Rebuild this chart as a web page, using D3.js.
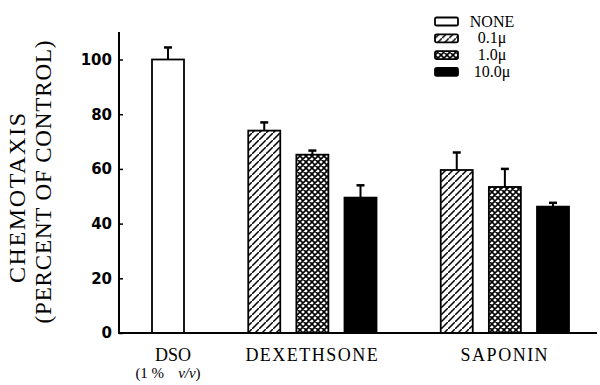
<!doctype html>
<html lang="en">
  <head>
    <meta charset="utf-8">
    <title>Chemotaxis</title>
    <style>
      body{ margin: 0; background: #fff; }
      svg{ display: block; }
      .serif{ font-family: "Liberation Serif", "DejaVu Serif", serif; }
      .tick text{ font-family: "DejaVu Sans", sans-serif; font-weight: bold; font-size: 15px; }
    </style>
  </head>
  <body>
    <svg id="chart" width="600" height="385"></svg>
    <script src="https://d3js.org/d3.v7.min.js"></script>
    <script>

      //chart values
      var groups = ["DSO", "DEXETHSONE", "SAPONIN"];
      var doses = ["NONE", "0.1\u03bc", "1.0\u03bc", "10.0\u03bc"];
      //each group's bars: dose index, mean, top of error bar
      var groupDoses = [[0], [1, 2, 3], [1, 2, 3]];
      var means = [[100], [74, 65.2, 49.5], [59.6, 53.4, 46.2]];
      var errTops = [[104.4], [77, 66.7, 54], [66, 60, 47.6]];
      var yTicks = [0, 20, 40, 60, 80, 100];

      var svg = d3.select("#chart");

      //patterns for the dose fills
      var defs = svg.append("defs");
      defs.append("pattern")
        .attr("id", "hatch")
        .attr("patternUnits", "userSpaceOnUse")
        .attr("width", 7).attr("height", 7)
        .append("path")
        .attr("d", "M-1,8 l2,-2 M0,7 l7,-7 M6,1 l2,-2")
        .attr("stroke", "#000").attr("stroke-width", 1.5);
      var cross = defs.append("pattern")
        .attr("id", "cross")
        .attr("patternUnits", "userSpaceOnUse")
        .attr("width", 6).attr("height", 6);
      cross.append("rect").attr("width", 6).attr("height", 6).attr("fill", "#fff");
      cross.append("path")
        .attr("d", "M-1,7 l8,-8 M-1,-1 l8,8 M-1,1 l2,-2 M5,7 l2,-2 M5,-1 l2,2 M-1,5 l2,2")
        .attr("stroke", "#000").attr("stroke-width", 1.6);

      var fills = ["#fff", "url(#hatch)", "url(#cross)", "#000"];

      //flatten bars into slots, one empty slot between groups
      var bars = [];
      var slot = 0;
      var groupSlots = [];
      groups.forEach(function(g, gi){
        var first = slot;
        groupDoses[gi].forEach(function(d, i){
          bars.push({group: g, dose: d, mean: means[gi][i], err: errTops[gi][i], slot: slot});
          slot++;
        });
        groupSlots.push((first + slot - 1) / 2);
        slot++;
      });

      var x = d3.scaleLinear().domain([0, 8]).range([168, 553]);
      var y = d3.scaleLinear().domain([0, 100]).range([333, 59.5]);
      var barW = 32;

      //bars
      svg.append("g").selectAll("rect")
        .data(bars)
        .enter()
        .append("rect")
        .attr("x", function(d){ return x(d.slot) - barW / 2; })
        .attr("y", function(d){ return y(d.mean); })
        .attr("width", barW)
        .attr("height", function(d){ return y(0) - y(d.mean); })
        .attr("fill", function(d){ return fills[d.dose]; })
        .attr("stroke", "#000")
        .attr("stroke-width", 1.8);

      //error bars
      var err = svg.append("g").attr("stroke", "#000").attr("stroke-width", 2);
      err.selectAll("line.v")
        .data(bars)
        .enter()
        .append("line")
        .attr("class", "v")
        .attr("x1", function(d){ return x(d.slot); })
        .attr("x2", function(d){ return x(d.slot); })
        .attr("y1", function(d){ return y(d.mean); })
        .attr("y2", function(d){ return y(d.err); });
      err.selectAll("line.c")
        .data(bars)
        .enter()
        .append("line")
        .attr("class", "c")
        .attr("x1", function(d){ return x(d.slot) - 4; })
        .attr("x2", function(d){ return x(d.slot) + 4; })
        .attr("y1", function(d){ return y(d.err); })
        .attr("y2", function(d){ return y(d.err); })
        .attr("stroke-width", 2.5);

      //y axis
      var yAxis = svg.append("g")
        .attr("transform", "translate(119,0)")
        .call(d3.axisLeft(y).tickValues(yTicks).tickSize(-4).tickPadding(7).tickSizeOuter(0));
      yAxis.select(".domain").remove();
      yAxis.selectAll(".tick line").attr("stroke-width", 1.5);
      svg.append("line")
        .attr("x1", 119).attr("x2", 119)
        .attr("y1", 32).attr("y2", y(0))
        .attr("stroke", "#000").attr("stroke-width", 2);

      //baseline
      svg.append("line")
        .attr("x1", 118).attr("x2", 597)
        .attr("y1", y(0)).attr("y2", y(0))
        .attr("stroke", "#000").attr("stroke-width", 2);

      //group labels
      svg.append("g").selectAll("text")
        .data(groups)
        .enter()
        .append("text")
        .attr("class", "serif")
        .attr("x", function(d, i){ return x(groupSlots[i]) + (i == 0 ? 5 : 0); })
        .attr("y", 361)
        .attr("text-anchor", "middle")
        .style("font-size", "18px")
        .style("letter-spacing", function(d, i){ return i == 0 ? "0px" : "1.5px"; })
        .text(function(d){ return d; });

      var sub = svg.append("text")
        .attr("class", "serif")
        .attr("x", 168)
        .attr("y", 378)
        .attr("text-anchor", "middle")
        .style("font-size", "15px");
      sub.append("tspan").text("(1 %");
      sub.append("tspan").attr("dx", 14).style("font-style", "italic").text("v/v");
      sub.append("tspan").text(")");

      //y title
      svg.append("text")
        .attr("class", "serif")
        .attr("transform", "translate(25,198) rotate(-90)")
        .attr("text-anchor", "middle")
        .style("font-size", "24px")
        .attr("textLength", 170)
        .attr("lengthAdjust", "spacing")
        .text("CHEMOTAXIS");
      svg.append("text")
        .attr("class", "serif")
        .attr("transform", "translate(51,182) rotate(-90)")
        .attr("text-anchor", "middle")
        .style("font-size", "23px")
        .attr("textLength", 283)
        .attr("lengthAdjust", "spacing")
        .text("(PERCENT OF CONTROL)");

      //legend
      var legend = svg.append("g").selectAll("g")
        .data(doses)
        .enter()
        .append("g")
        .attr("transform", function(d, i){ return "translate(435," + (21.5 + i * 16.8) + ")"; });
      legend.append("rect")
        .attr("x", 0).attr("y", -4)
        .attr("width", 23).attr("height", 8)
        .attr("rx", 1.5)
        .attr("fill", function(d, i){ return fills[i]; })
        .attr("stroke", "#000")
        .attr("stroke-width", 1.8);
      legend.append("text")
        .attr("class", "serif")
        .attr("x", 57)
        .attr("y", 5)
        .attr("text-anchor", "middle")
        .style("font-size", "16px")
        .text(function(d){ return d; });

    </script>
  </body>
</html>
